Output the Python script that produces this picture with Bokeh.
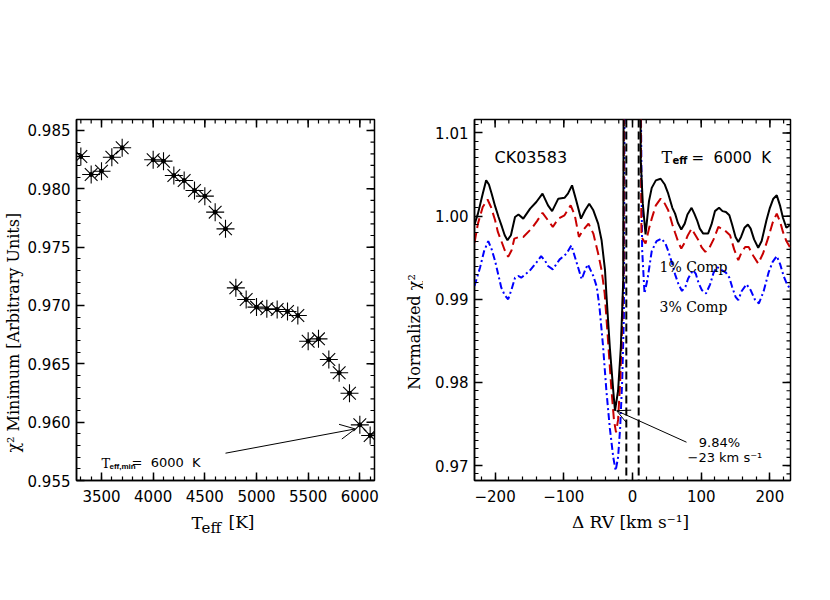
import numpy as np
from bokeh.plotting import figure
from bokeh.models import Range1d, FixedTicker, Label, Arrow, OpenHead, Span
from bokeh.layouts import row, column
from bokeh.embed import file_html
from bokeh.resources import INLINE

# ---------------- data: left panel ----------------
teff = [3300, 3400, 3500, 3600, 3700, 4000, 4100, 4200, 4300, 4400, 4500, 4600, 4700,
        4800, 4900, 5000, 5100, 5200, 5300, 5400, 5500, 5600, 5700, 5800, 5900, 6000, 6100]
chi2_min = [0.98277, 0.98123, 0.98151, 0.98271, 0.98352, 0.98249, 0.98237, 0.98114, 0.98071,
            0.97985, 0.97937, 0.97800, 0.97657, 0.97151, 0.97051, 0.96986, 0.96972, 0.96966,
            0.96949, 0.96914, 0.96694, 0.96714, 0.96537, 0.96423, 0.96248, 0.95977, 0.95886]
left_xticks = [3500, 4000, 4500, 5000, 5500, 6000]
left_yticks = [0.955, 0.960, 0.965, 0.970, 0.975, 0.980, 0.985]

# ---------------- data: right panel ----------------
rv_solid = [-230, -225, -218, -213, -209, -205, -200, -195, -190, -186, -182, -177, -171, -166,
            -159, -149, -140, -131, -123, -117, -108, -99, -94, -88, -82, -75, -69, -63, -57,
            -50, -45, -40, -38, -33, -28, -25.5, -21, -17, -13.5, -12.5, 0, 10.8, 12, 15, 19,
            24, 28, 34, 41, 47, 52, 58, 62, 66, 71, 76, 80, 86, 90, 94, 98, 103, 110, 115, 120,
            126, 131, 136, 141, 145, 150, 154, 158, 163, 168, 172, 177, 183, 188, 195, 200, 205,
            210, 215, 219, 224, 229]
chi2_solid = [0.9990, 1.0003, 1.0027, 1.0043, 1.0038, 1.0027, 1.0012, 0.9999, 0.9987, 0.9977,
              0.9971, 0.9977, 0.9999, 1.0002, 0.9997, 1.0009, 1.0017, 1.0027, 1.0013, 1.0006,
              1.0021, 1.0022, 1.0027, 1.0037, 1.0019, 0.9997, 1.0007, 1.0015, 1.0007, 0.9991,
              0.9971, 0.9935, 0.9906, 0.9842, 0.9790, 0.9766, 0.9790, 0.9842, 0.9922, 1.0300,
              1.0600, 1.0300, 1.0067, 1.0015, 0.9978, 1.0018, 1.0034, 1.0043, 1.0045, 1.0038,
              1.0027, 1.0010, 1.0003, 0.9992, 0.9984, 0.9991, 1.0002, 1.0010, 1.0003, 0.9995,
              0.9985, 0.9979, 0.9979, 0.9990, 1.0006, 1.0010, 1.0006, 1.0005, 1.0001, 0.9990,
              0.9975, 0.9969, 0.9975, 0.9986, 0.9990, 0.9985, 0.9972, 0.9962, 0.9970, 0.9995,
              1.0010, 1.0021, 1.0025, 1.0012, 0.9998, 0.9986, 0.9989]

rv_1pct = [-230, -225, -218, -211, -206, -200, -196, -190, -186, -181, -176, -172, -165, -159,
           -147, -139, -131, -123, -116, -108, -99, -90, -84, -78, -72, -64, -57, -50, -45,
           -40.5, -36, -31, -27, -24, -21, -18, -15, -13, -12, 0, 11, 13, 19, 24, 28, 34, 41,
           47, 52, 58, 62, 67, 71, 76, 80, 86, 91, 96, 101, 106, 112, 118, 125, 134, 142, 148,
           154, 158, 164, 169, 176, 183, 190, 198, 204, 210, 215, 219, 224, 229]
chi2_1pct = [0.9968, 0.9991, 1.0011, 1.0020, 1.0011, 0.9995, 0.9981, 0.9968, 0.9959, 0.9951,
             0.9959, 0.9973, 0.9975, 0.9975, 0.9985, 0.9994, 1.0004, 0.9995, 0.9987, 0.9997,
             1.0001, 1.0013, 1.0001, 0.9975, 0.9983, 0.9991, 0.9979, 0.9955, 0.9935, 0.9907,
             0.9855, 0.9795, 0.9755, 0.9740, 0.9755, 0.9800, 0.9870, 0.9935, 1.0300, 1.0600,
             1.0300, 0.9975, 0.9967, 0.9985, 0.9997, 1.0013, 1.0021, 1.0015, 1.0007, 0.9990,
             0.9980, 0.9968, 0.9961, 0.9968, 0.9976, 0.9985, 0.9978, 0.9971, 0.9962, 0.9957,
             0.9962, 0.9972, 0.9987, 0.9983, 0.9977, 0.9960, 0.9947, 0.9955, 0.9963, 0.9963,
             0.9952, 0.9943, 0.9955, 0.9975, 0.9992, 1.0003, 0.9993, 0.9981, 0.9970, 0.9963]

rv_3pct = [-230, -222, -216, -210, -205, -200, -191, -186, -181, -176, -171, -166, -162, -150,
           -140, -133, -127, -123, -116, -106, -96, -89, -82, -74, -69, -65, -57, -52, -48, -43,
           -38, -33, -28, -24.5, -21, -18, -15, -12.5, -11, 0, 10.5, 14, 17.5, 22, 28, 35, 42,
           48, 52, 57, 62, 67, 72, 77, 81, 88, 92, 96, 101, 107, 113, 118, 123, 130, 136, 141,
           145, 150, 154, 159, 166, 172, 178, 184, 191, 198, 204, 210, 215, 220, 226, 229]
chi2_3pct = [0.9916, 0.9938, 0.9958, 0.9970, 0.9960, 0.9946, 0.9914, 0.9905, 0.9900, 0.9912,
             0.9926, 0.9928, 0.9926, 0.9934, 0.9944, 0.9952, 0.9946, 0.9940, 0.9936, 0.9948,
             0.9955, 0.9965, 0.9946, 0.9924, 0.9935, 0.9942, 0.9928, 0.9915, 0.9890, 0.9845,
             0.9790, 0.9745, 0.9710, 0.9694, 0.9710, 0.9745, 0.9802, 0.9880, 1.0300, 1.0600,
             1.0300, 0.9960, 0.9907, 0.9925, 0.9958, 0.9970, 0.9973, 0.9967, 0.9958, 0.9945,
             0.9930, 0.9918, 0.9910, 0.9915, 0.9925, 0.9935, 0.9931, 0.9920, 0.9911, 0.9907,
             0.9918, 0.9932, 0.9939, 0.9935, 0.9932, 0.9926, 0.9915, 0.9903, 0.9899, 0.9910,
             0.9918, 0.9911, 0.9900, 0.9895, 0.9910, 0.9932, 0.9945, 0.9952, 0.9942, 0.9928,
             0.9916, 0.9914]

rv_window = [-9, 9]
best_rv = -23
best_chi2 = 0.9766
right_xticks = [-200, -100, 0, 100, 200]
right_xtick_labels = ["\u2212200", "\u2212100", "0", "100", "200"]
right_yticks = [0.97, 0.98, 0.99, 1.00, 1.01]

best_teff = 6000
best_teff_chi2 = 0.95977

# ---------------- layout geometry (page pixels, page has no margin) ----------------
TOP, FH, BOT = 119, 361, 28
MAIN_H = TOP + FH + BOT
LEFT = dict(fl=75, ft=TOP, fw=298, fh=FH, xr=(3258, 6142), yr=(0.955, 0.98594))
RIGHT = dict(fl=473, ft=TOP, fw=316, fh=FH, xr=(-230, 230), yr=(0.96821, 1.01162))


def to_data(fr, px, py):
    x = fr["xr"][0] + (px - fr["fl"]) / fr["fw"] * (fr["xr"][1] - fr["xr"][0])
    y = fr["yr"][0] + (fr["ft"] + fr["fh"] - py) / fr["fh"] * (fr["yr"][1] - fr["yr"][0])
    return x, y


def add_label(p, fr, px, py, text, size, font="DejaVu Sans", align="left",
              baseline="alphabetic", angle=0.0, style="normal"):
    x, y = to_data(fr, px, py)
    p.add_layout(Label(x=x, y=y, text=text, text_font=font, text_font_size=f"{size}px",
                       text_align=align, text_baseline=baseline, angle=angle,
                       text_color="black", text_font_style=style))


def text_fig(w, h):
    f = figure(width=w, height=h, x_range=Range1d(0, w), y_range=Range1d(0, h),
               output_backend="svg", toolbar_location=None, x_axis_location=None,
               y_axis_location=None, min_border=0, title=None)
    f.outline_line_color = None
    f.xgrid.visible = False
    f.ygrid.visible = False
    f.background_fill_color = "white"
    f.border_fill_color = "white"
    return f


def txt(f, x, y, text, size, font="DejaVu Serif", align="left", baseline="alphabetic",
        angle=0.0):
    f.add_layout(Label(x=x, y=y, text=text, text_font=font, text_font_size=f"{size}px",
                       text_align=align, text_baseline=baseline, angle=angle,
                       text_color="black"))


def make_fig(fr, bl, br, xmaj, xmin, ymaj, ymin):
    p = figure(frame_width=fr["fw"], frame_height=fr["fh"], output_backend="svg",
               toolbar_location=None, x_range=Range1d(*fr["xr"]), y_range=Range1d(*fr["yr"]),
               min_border_left=bl, min_border_right=br, min_border_top=TOP,
               min_border_bottom=BOT, title=None)
    p.xgrid.visible = False
    p.ygrid.visible = False
    p.outline_line_color = "black"
    p.outline_line_width = 1.5
    p.background_fill_color = "white"
    p.border_fill_color = "white"
    p.xaxis.ticker = FixedTicker(ticks=xmaj, minor_ticks=xmin)
    p.yaxis.ticker = FixedTicker(ticks=ymaj, minor_ticks=ymin)
    for ax in (p.xaxis[0], p.yaxis[0]):
        ax.axis_line_width = 1.5
        ax.axis_line_color = "black"
        ax.major_tick_in = 8
        ax.major_tick_out = 0
        ax.minor_tick_in = 4
        ax.minor_tick_out = 0
        ax.major_tick_line_width = 1.5
        ax.minor_tick_line_width = 1.2
        ax.major_tick_line_color = "black"
        ax.minor_tick_line_color = "black"
        ax.major_label_text_font = "DejaVu Sans"
        ax.major_label_text_font_size = "15px"
        ax.major_label_text_color = "black"
        ax.major_label_standoff = 6
    p.xaxis[0].major_label_standoff = 9
    # mirrored ticks on top and right edges
    dx = (fr["xr"][1] - fr["xr"][0]) / fr["fw"]
    dy = (fr["yr"][1] - fr["yr"][0]) / fr["fh"]
    top = fr["yr"][1]
    rgt = fr["xr"][1]
    p.segment(x0=xmaj, x1=xmaj, y0=[top] * len(xmaj), y1=[top - 8 * dy] * len(xmaj),
              line_color="black", line_width=1.5)
    p.segment(x0=xmin, x1=xmin, y0=[top] * len(xmin), y1=[top - 4 * dy] * len(xmin),
              line_color="black", line_width=1.2)
    p.segment(x0=[rgt] * len(ymaj), x1=[rgt - 8 * dx] * len(ymaj), y0=ymaj, y1=ymaj,
              line_color="black", line_width=1.5)
    p.segment(x0=[rgt] * len(ymin), x1=[rgt - 4 * dx] * len(ymin), y0=ymin, y1=ymin,
              line_color="black", line_width=1.2)
    return p


# ---------------- left panel ----------------
lx_minor = list(range(3300, 6200, 100))
ly_minor = [round(v, 3) for v in np.arange(0.955, 0.9861, 0.001)]
p1 = make_fig(LEFT, 51, 10, left_xticks, lx_minor, left_yticks, ly_minor)
p1.yaxis[0].major_label_overrides = {v: f"{v:.3f}" for v in left_yticks}

p1.scatter(teff, chi2_min, marker="asterisk", size=18, line_color="black", line_width=1.1)
p1.scatter(teff, chi2_min, marker="circle", size=4, fill_color="black", line_color="black")

ax0, ay0 = to_data(LEFT, 224, 452.7)
p1.add_layout(Arrow(x_start=ax0, y_start=ay0, x_end=best_teff - 45, y_end=best_teff_chi2 - 0.00035,
                    end=OpenHead(size=15, line_width=1, line_color="black"),
                    line_width=1, line_color="black"))
add_label(p1, LEFT, 100, 463, "T", 13, font="DejaVu Serif")
add_label(p1, LEFT, 108, 466, "eff,min", 8, font="Liberation Sans", style="bold")
add_label(p1, LEFT, 130, 462, "=\u00a0\u00a06000\u00a0\u00a0K", 13)

# ---------------- right panel ----------------
rx_minor = list(range(-220, 240, 20))
ry_minor = [round(v, 3) for v in np.arange(0.969, 1.0115, 0.001)]
p2 = make_fig(RIGHT, 51, 30, right_xticks, rx_minor, right_yticks, ry_minor)
p2.xaxis[0].major_label_overrides = dict(zip(right_xticks, right_xtick_labels))
p2.yaxis[0].major_label_overrides = {v: f"{v:.2f}" for v in right_yticks}

p2.line(rv_3pct, chi2_3pct, line_color="#0000FF", line_width=2, line_dash="7 3 2 3")
p2.line(rv_1pct, chi2_1pct, line_color="#C80000", line_width=2, line_dash="10 5")
p2.line(rv_solid, chi2_solid, line_color="black", line_width=2)
for loc in rv_window:
    p2.add_layout(Span(location=loc, dimension="height", line_color="black",
                       line_width=2, line_dash="8 4"))

sx0, sy0 = to_data(RIGHT, 685, 441.7)
p2.add_layout(Arrow(x_start=sx0, y_start=sy0, x_end=best_rv, y_end=best_chi2,
                    end=OpenHead(size=13, line_width=1, line_color="black"),
                    line_width=1, line_color="black"))

add_label(p2, RIGHT, 493, 157, "CK03583", 16)
add_label(p2, RIGHT, 660, 157, "T", 16, font="DejaVu Serif")
add_label(p2, RIGHT, 671, 160, "eff", 10, style="bold")
add_label(p2, RIGHT, 690, 157, "=\u00a0\u00a06000\u00a0\u00a0K", 15)
add_label(p2, RIGHT, 658, 266.7, "1% Comp", 14, font="DejaVu Serif")
add_label(p2, RIGHT, 658, 306.7, "3% Comp", 14, font="DejaVu Serif")
add_label(p2, RIGHT, 718, 441.7, "9.84%", 13, align="center")
add_label(p2, RIGHT, 686, 456.7, "\u221223 km s\u207b\u00b9", 13)

# ---------------- axis-title strips ----------------
YL1_W = 75 - 51          # strip left of the left panel
yl1 = text_fig(YL1_W, MAIN_H)
txt(yl1, 13, MAIN_H - 300, "\u03c7\u00b2 Minimum [Arbitrary Units]", 16,
    align="center", baseline="middle", angle=np.pi / 2)

p1_right_edge = 75 + 298 + 10
YL2_W = (473 - 51) - p1_right_edge
yl2 = text_fig(YL2_W, MAIN_H)
txt(yl2, 413 - p1_right_edge, MAIN_H - 299, "Normalized \u03c7\u00b2", 16,
    align="center", baseline="middle", angle=np.pi / 2)

XL_H = 36
XL_W = 473 - 51 + 51 + 316 + 30
xl = text_fig(XL_W, XL_H)
x_top = MAIN_H + XL_H
txt(xl, 191, x_top - 522, "T", 17)
txt(xl, 201, x_top - 527, "eff", 15)
txt(xl, 228, x_top - 521, "[K]", 17)
txt(xl, 630, x_top - 521, "\u0394 RV [km s\u207b\u00b9]", 17, align="center")

layout = column(row(yl1, p1, yl2, p2), xl)
open("out.html", "w").write(file_html(layout, INLINE))
